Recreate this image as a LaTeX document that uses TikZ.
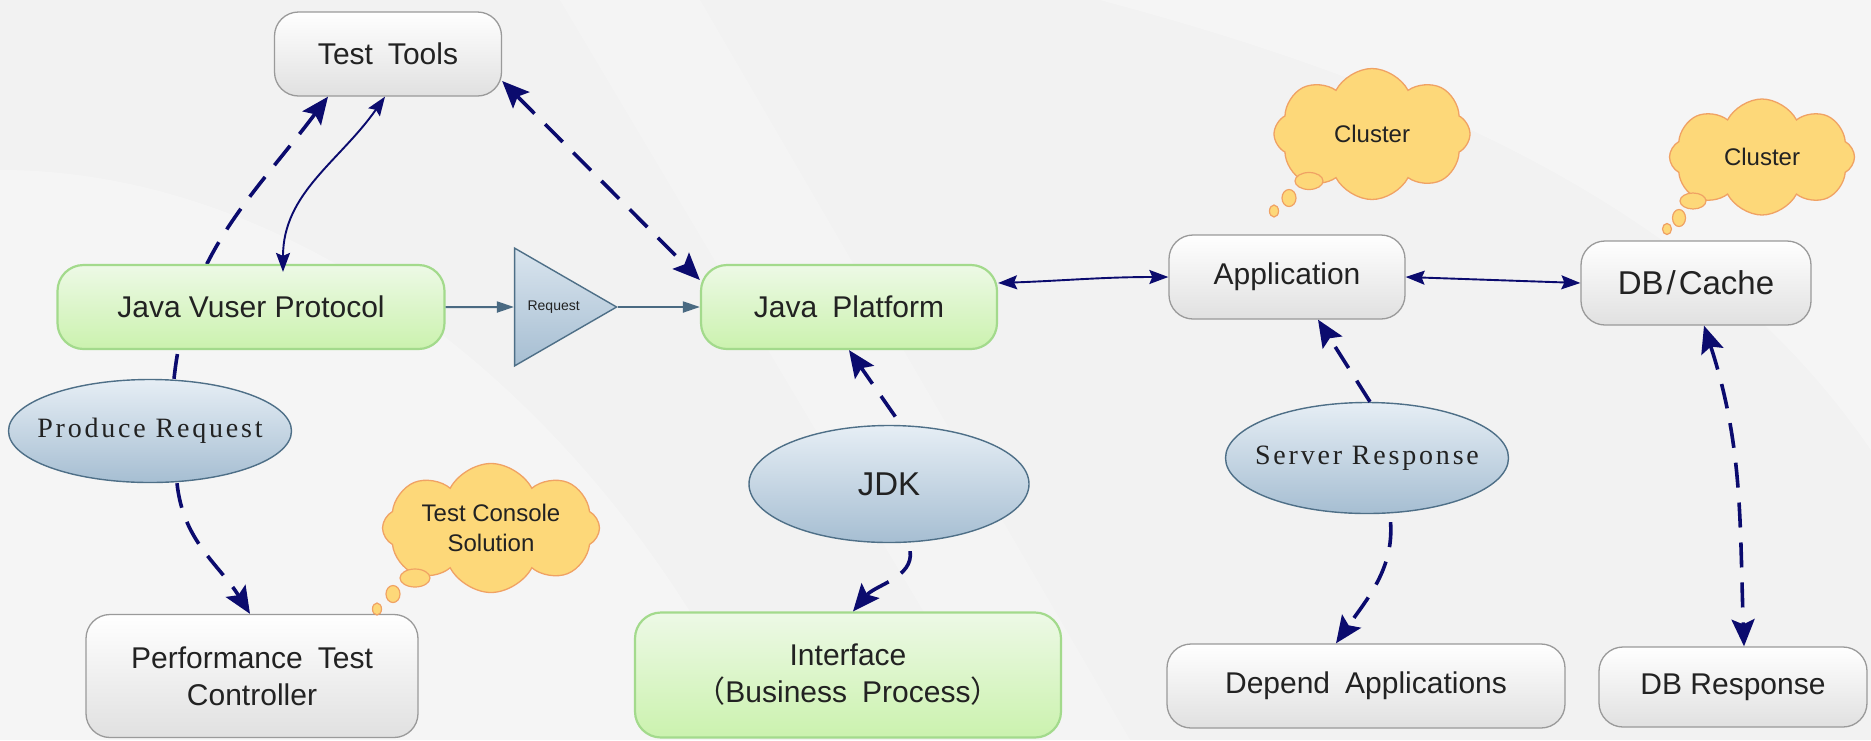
\documentclass[tikz,border=0pt]{standalone}
\usepackage{fontspec}
\setmainfont{Liberation Sans}
\newfontfamily\serifw[LetterSpace=10]{Liberation Serif}
\newfontfamily\cjkf{Noto Sans CJK SC}
\usetikzlibrary{shapes.geometric,shapes.symbols,arrows.meta}
\definecolor{bgc}{HTML}{F2F2F2}
\definecolor{navyc}{HTML}{0B0B6E}
\definecolor{steelc}{HTML}{4A6A82}
\definecolor{txtc}{HTML}{222222}
\definecolor{grayborder}{HTML}{9A9A9A}
\definecolor{greenborder}{HTML}{A3DA8C}
\definecolor{greentop}{HTML}{EDF9E6}
\definecolor{greenbot}{HTML}{CBF2AE}
\definecolor{elltop}{HTML}{E6EEF5}
\definecolor{ellbot}{HTML}{A6BED2}
\definecolor{ellborder}{HTML}{4E6F87}
\definecolor{cloudfill}{HTML}{FDD879}
\definecolor{cloudborder}{HTML}{F0A264}
\tikzset{
  graybox/.style={draw=grayborder, line width=1.3pt, rounded corners=24pt, top color=white, bottom color=black!12, text=txtc, font=\fontsize{30}{37}\selectfont, align=center, inner sep=0pt},
  greenbox/.style={draw=greenborder, line width=2.2pt, rounded corners=26pt, top color=greentop, bottom color=greenbot, text=txtc, font=\fontsize{30}{37}\selectfont, align=center, inner sep=0pt},
  ellnode/.style={ellipse, draw=ellborder, line width=1.4pt, top color=elltop, bottom color=ellbot, text=txtc, inner xsep=-50pt, inner ysep=0pt},
  cloudnode/.style={cloud, cloud puffs=8, cloud puff arc=125, cloud ignores aspect, draw=cloudborder, fill=cloudfill, line width=1.3pt, text=txtc, font=\fontsize{24}{30}\selectfont, align=center, inner sep=0pt},
  bubble/.style={ellipse, draw=cloudborder, fill=cloudfill, line width=1.2pt, inner sep=0pt},
  darr/.style={draw=navyc, line width=3.6pt, dash pattern=on 25pt off 15pt, >={Stealth[length=27pt,width=23pt,inset=5pt]}},
  sarr/.style={draw=navyc, line width=1.9pt, >={Stealth[length=19pt,width=14pt,inset=3pt]}},
  steelarr/.style={draw=steelc, line width=2pt, ->, >={Triangle[length=17pt,width=11pt]}},
}
\begin{document}
\begin{tikzpicture}[x=1pt,y=1pt]
\useasboundingbox (0,0) rectangle (1871,-740);
\fill[bgc] (0,0) rectangle (1871,-740);
% subtle background bands
\fill[white, opacity=0.3] (0,-170) .. controls (300,-170) and (600,-400) .. (760,-740) -- (0,-740) -- cycle;
\fill[white, opacity=0.2] (560,0) -- (700,0) -- (1130,-740) -- (1000,-740) -- cycle;
\fill[white, opacity=0.3] (1100,0) -- (1871,0) -- (1871,-450) .. controls (1700,-200) and (1400,-80) .. (1100,0);

% nodes
\node[graybox, minimum width=227pt, minimum height=84pt] (TT) at (388,-54) {Test\hspace{0.5em}Tools};
\node[ellnode, minimum width=283pt, minimum height=103pt, font=\serifw\fontsize{28}{32}\selectfont] (PR) at (150,-431) {Produce Request};

\draw[darr, ->] ([xshift=24pt]PR.north) to[out=84, in=233] ([xshift=-60pt]TT.south);

\node[greenbox, minimum width=387pt, minimum height=84pt] (JVP) at (251,-307) {Java Vuser Protocol};
\node[greenbox, minimum width=296pt, minimum height=84pt] (JP) at (849,-307) {Java\hspace{0.5em}Platform};
\node[graybox, minimum width=236pt, minimum height=84pt] (APP) at (1287,-277) {Application};
\node[graybox, minimum width=230pt, minimum height=84pt, font=\fontsize{33}{38}\selectfont] (DBC) at (1696,-283) {DB\kern3pt/\kern3pt Cache};
\node[ellnode, minimum width=280pt, minimum height=117pt, font=\fontsize{33}{38}\selectfont] (JDK) at (889,-484) {JDK};
\node[ellnode, minimum width=283pt, minimum height=111pt, font=\serifw\fontsize{28}{32}\selectfont] (SR) at (1367,-458) {Server Response};
\node[graybox, minimum width=332pt, minimum height=123pt] (PTC) at (252,-676) {Performance\hspace{0.5em}Test\\Controller};
\node[greenbox, minimum width=426pt, minimum height=125pt] (IF) at (848,-675) {Interface\\{\cjkf （}Business\hspace{0.5em}Process{\cjkf ）}};
\node[graybox, minimum width=398pt, minimum height=84pt] (DA) at (1366,-686) {Depend\hspace{0.5em}Applications};
\node[graybox, minimum width=268pt, minimum height=80pt] (DBR) at (1733,-687) {DB Response};

\node[isosceles triangle, isosceles triangle apex angle=60, minimum height=102pt, draw=ellborder, line width=1.4pt, top color=elltop!80!ellbot, bottom color=ellbot, text=txtc, font=\fontsize{14}{16}\selectfont, inner sep=0pt, anchor=apex] (TRI) at (618,-307) {Request};

% clouds
\node[cloudnode, minimum width=196pt, minimum height=131pt] (C1) at (1372,-134) {Cluster};
\node[bubble, minimum width=28pt, minimum height=17pt] (C1a) at (1309,-181) {};
\node[bubble, minimum width=14pt, minimum height=17pt] (C1b) at (1289,-198) {};
\node[bubble, minimum width=9pt, minimum height=12pt] (C1c) at (1274,-211) {};

\node[cloudnode, minimum width=185pt, minimum height=116pt] (C2) at (1762,-157) {Cluster};
\node[bubble, minimum width=26pt, minimum height=16pt] (C2a) at (1693,-201) {};
\node[bubble, minimum width=13pt, minimum height=17pt] (C2b) at (1679,-218) {};
\node[bubble, minimum width=9pt, minimum height=11pt] (C2c) at (1667,-229) {};

\node[cloudnode, minimum width=217pt, minimum height=129pt] (C3) at (491,-528) {Test Console\\Solution};
\node[bubble, minimum width=30pt, minimum height=18pt] (C3a) at (415,-578) {};
\node[bubble, minimum width=14pt, minimum height=17pt] (C3b) at (393,-594) {};
\node[bubble, minimum width=9pt, minimum height=12pt] (C3c) at (377,-609) {};

% connectors
\draw[sarr, <->] ([xshift=-3pt]TT.south) to[out=235, in=90] ([xshift=32pt, yshift=-8pt]JVP.north);
\draw[darr, <->] ([yshift=-27pt]TT.east) -- ([yshift=27pt]JP.west);
\draw[steelarr] (JVP.east) -- (TRI.west);
\draw[steelarr] (TRI.apex) -- (JP.west);
\draw[sarr, <->] ([yshift=24pt]JP.east) to[out=2, in=180] (APP.west);
\draw[sarr, <->] (APP.east) -- (DBC.west);
\draw[darr, ->] ([xshift=27pt]PR.south) to[out=-84, in=122] ([xshift=-2pt]PTC.north);
\draw[darr, ->, shorten <=10pt] ([xshift=12pt]JDK.north) -- (JP.south);
\draw[darr, ->, shorten <=8pt] ([xshift=20pt]JDK.south) to[out=-82, in=50] ([xshift=5pt]IF.north);
\draw[darr, ->] ([xshift=3pt]SR.north) -- ([xshift=31pt]APP.south);
\draw[darr, ->, shorten <=8pt] ([xshift=23pt]SR.south) to[out=-86, in=55] ([xshift=-30pt]DA.north);
\draw[darr, <->] ([xshift=8pt]DBC.south) to[out=-72, in=92] ([xshift=11pt]DBR.north);
\end{tikzpicture}
\end{document}
